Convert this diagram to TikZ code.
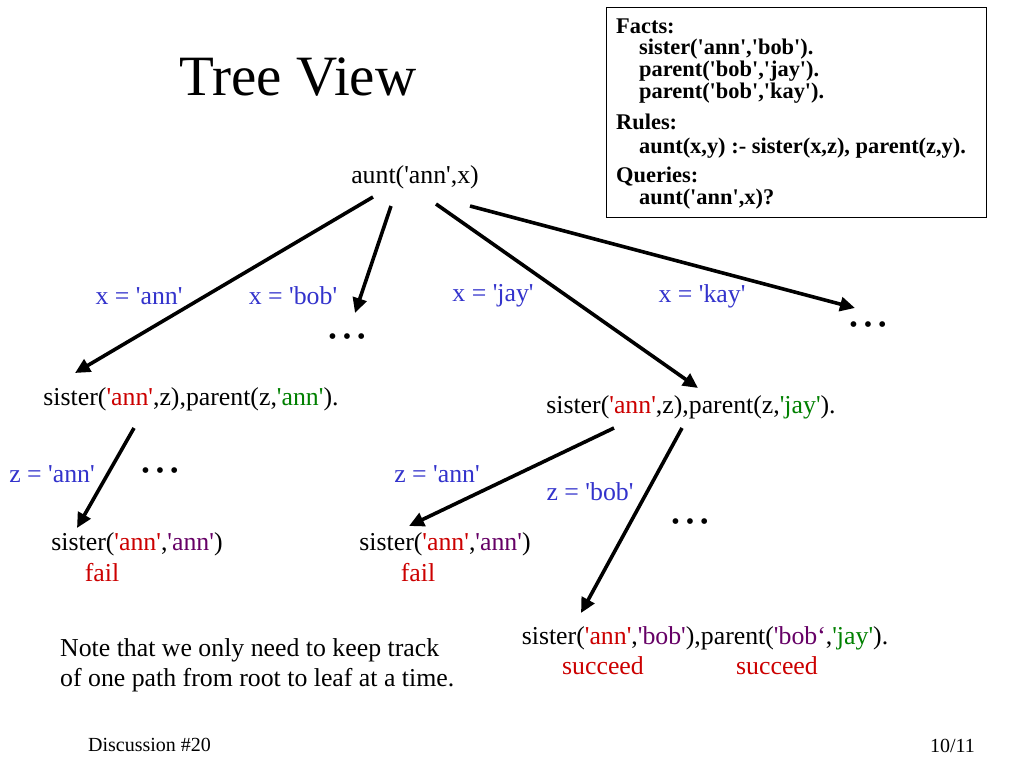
\documentclass[tikz,border=0pt]{standalone}
\usepackage{fontspec}
\setmainfont{Liberation Serif}[Ligatures=TeXOff]
\usetikzlibrary{arrows.meta}
\definecolor{lblue}{RGB}{51,51,204}
\definecolor{lred}{RGB}{204,0,0}
\definecolor{lgreen}{RGB}{0,128,0}
\definecolor{lpurple}{RGB}{102,0,102}
\newcommand{\rd}[1]{\textcolor{lred}{#1}}
\newcommand{\gr}[1]{\textcolor{lgreen}{#1}}
\newcommand{\pu}[1]{\textcolor{lpurple}{#1}}
\newcommand{\mydots}{\textbullet\hspace{6pt}\textbullet\hspace{6pt}\textbullet}
\begin{document}
\begin{tikzpicture}[x=1pt,y=-1pt,
  term/.style={font=\fontsize{25.8}{30}\selectfont, inner sep=0pt},
  lbl/.style={term, text=lblue},
  res/.style={term, text=lred},
  fact/.style={font=\fontsize{22.4}{26}\selectfont\bfseries, anchor=base west, inner sep=0pt},
  arr/.style={line width=3.6pt, -{Triangle[length=15pt,width=14pt]}},
  dotsn/.style={font=\fontsize{24}{28}\selectfont, inner sep=0pt}]
\useasboundingbox (0,0) rectangle (1024,768);
\fill[white] (0,0) rectangle (1024,768);

% title
\node[font=\fontsize{57}{64}\selectfont, inner sep=0pt] (title) at (298,77) {Tree View};

% facts box
\draw[line width=1pt] (606,8) rectangle (986,217);
\node[fact] (f1) at (616,34) {Facts:};
\node[fact] (f2) at (639,55) {sister('ann','bob').};
\node[fact] (f3) at (639,77) {parent('bob','jay').};
\node[fact] (f4) at (639,98) {parent('bob','kay').};
\node[fact] (f5) at (616,129) {Rules:};
\node[fact] (f6) at (639,153) {aunt(x,y) :- sister(x,z), parent(z,y).};
\node[fact] (f7) at (616,182) {Queries:};
\node[fact] (f8) at (639,204) {aunt('ann',x)?};

% tree nodes
\node[term] (root) at (415,177) {aunt('ann',x)};
\node[term] (s1) at (191,399) {sister(\rd{'ann'},z),parent(z,\gr{'ann'}).};
\node[term] (s2) at (691,407) {sister(\rd{'ann'},z),parent(z,\gr{'jay'}).};
\node[term] (l1) at (137,544) {sister(\rd{'ann'},\pu{'ann'})};
\node[res] (f1r) at (102,573) {fail};
\node[term] (l2) at (445,544) {sister(\rd{'ann'},\pu{'ann'})};
\node[res] (f2r) at (418,573) {fail};
\node[term] (l3) at (705,638) {sister(\rd{'ann'},\pu{'bob'}),parent(\pu{'bob‘},\gr{'jay'}).};
\node[res] (sc1) at (603,666) {succeed};
\node[res] (sc2) at (777,666) {succeed};

% dots
\node[dotsn] (d1) at (347,339) {\mydots};
\node[dotsn] (d2) at (868,327) {\mydots};
\node[dotsn] (d3) at (160,473) {\mydots};
\node[dotsn] (d4) at (690,524) {\mydots};

% edge labels
\node[lbl] (lx1) at (139,296) {x = 'ann'};
\node[lbl] (lx2) at (293,296) {x = 'bob'};
\node[lbl] (lx3) at (493,296) {x = 'jay'};
\node[lbl] (lx4) at (702,296) {x = 'kay'};
\node[lbl] (lz1) at (52,474) {z = 'ann'};
\node[lbl] (lz2) at (437,474) {z = 'ann'};
\node[lbl] (lz3) at (590,492) {z = 'bob'};

% arrow end points
\coordinate (a1s) at (373,197);
\coordinate (a1e) at (75,373);
\coordinate (a2s) at (391,206);
\coordinate (a2e) at (355,313);
\coordinate (a3s) at (436,204);
\coordinate (a3e) at (698,388);
\coordinate (a4s) at (470,206);
\coordinate (a4e) at (855,308);
\coordinate (a5s) at (134,428);
\coordinate (a5e) at (77,528);
\coordinate (a6s) at (614,428);
\coordinate (a6e) at (409,526);
\coordinate (a7s) at (682,428);
\coordinate (a7e) at (581,613);

\draw[arr] (a1s) -- (a1e);
\draw[arr] (a2s) -- (a2e);
\draw[arr] (a3s) -- (a3e);
\draw[arr] (a4s) -- (a4e);
\draw[arr] (a5s) -- (a5e);
\draw[arr] (a6s) -- (a6e);
\draw[arr] (a7s) -- (a7e);

% note
\node[term, anchor=west] (n1) at (60,650) {Note that we only need to keep track};
\node[term, anchor=west] (n2) at (60,680) {of one path from root to leaf at a time.};

% footer
\node[font=\fontsize{20}{24}\selectfont, inner sep=0pt, anchor=west] (foot1) at (88,745) {Discussion \#20};
\node[font=\fontsize{20}{24}\selectfont, inner sep=0pt, anchor=east] (foot2) at (975,746) {10/11};
\end{tikzpicture}
\end{document}
